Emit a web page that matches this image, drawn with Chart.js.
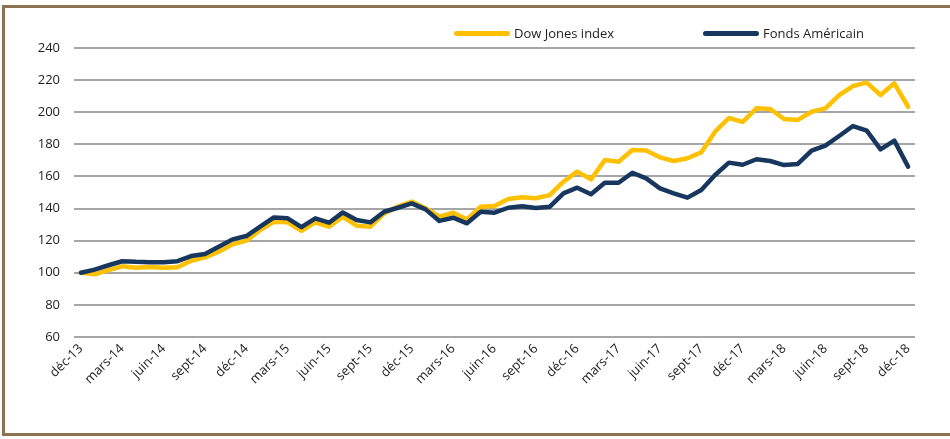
<!DOCTYPE html>
<html>
<head>
<meta charset="utf-8">
<script src="https://cdn.jsdelivr.net/npm/chart.js@4.4.1/dist/chart.umd.min.js"></script>
<style>
  html, body { margin: 0; padding: 0; background: #fff; }
  body { width: 950px; height: 439px; position: relative; overflow: hidden; font-family: "Open Sans", sans-serif; }
  #frame { position: absolute; left: 2px; top: 5px; width: 980px; height: 431px; border: 3px solid #8c7453; border-right: none; box-sizing: border-box; }
  #wrap { position: absolute; left: 0; top: 0; width: 950px; height: 439px; }
  #legend { position: absolute; top: 24px; left: 454px; font-size: 13px; color: #222; white-space: nowrap; }
  #legend .item { position: absolute; top: 0; display: flex; align-items: center; }
  #legend .swatch { width: 56px; height: 5px; border-radius: 3px; margin-right: 4px; }
</style>
</head>
<body>
<div id="frame"></div>
<div id="wrap"><canvas id="chart" width="950" height="439"></canvas></div>
<div id="legend"></div>
<script>
const months = [
  "déc-13","janv-14","févr-14","mars-14","avr-14","mai-14","juin-14","juil-14","août-14","sept-14","oct-14","nov-14",
  "déc-14","janv-15","févr-15","mars-15","avr-15","mai-15","juin-15","juil-15","août-15","sept-15","oct-15","nov-15",
  "déc-15","janv-16","févr-16","mars-16","avr-16","mai-16","juin-16","juil-16","août-16","sept-16","oct-16","nov-16",
  "déc-16","janv-17","févr-17","mars-17","avr-17","mai-17","juin-17","juil-17","août-17","sept-17","oct-17","nov-17",
  "déc-17","janv-18","févr-18","mars-18","avr-18","mai-18","juin-18","juil-18","août-18","sept-18","oct-18","nov-18",
  "déc-18"
];

const dowJones = [
  100, 99, 101.6, 104, 103.2, 103.6, 103.2, 103.4, 107.5, 109.6, 113.1, 117.7,
  120, 126.6, 131.8, 131.4, 126.1, 131.4, 128.7, 134.9, 129.3, 128.7, 137, 141.2,
  144.3, 140.2, 134.9, 137.4, 133.3, 141.2, 141.6, 146, 147, 146.4, 148.4, 156.7,
  163, 158.2, 170.2, 169.2, 176.5, 176.1, 171.9, 169.6, 171.3, 175, 187.9, 196.4,
  194, 202.4, 202, 195.8, 195.2, 200.3, 202.4, 210.7, 216.3, 218.4, 210.7, 218,
  203.4
];

const fondsAmericain = [
  100, 102, 104.7, 107.2, 106.8, 106.6, 106.6, 107.2, 110.4, 111.7, 116.2, 120.8,
  122.9, 128.7, 134.5, 133.9, 128.4, 133.9, 131.2, 137.6, 132.9, 131.4, 138, 140.5,
  143.2, 139.5, 132.3, 134.3, 130.8, 138, 137.4, 140.5, 141.4, 140.3, 141.1, 149.5,
  153, 148.9, 156.1, 156.1, 162.3, 158.8, 152.6, 149.5, 146.8, 151.6, 160.9, 168.6,
  167.3, 170.7, 169.6, 167.1, 167.8, 176.1, 179.2, 185.2, 191.4, 188.5, 176.9, 182.3,
  166.1
];

const seriesNames = ["Dow Jones index", "Fonds Américain"];
const seriesColors = ["#ffc000", "#17375e"];

const ctx = document.getElementById("chart").getContext("2d");
const chart = new Chart(ctx, {
  type: "line",
  data: {
    labels: months,
    datasets: [
      { label: seriesNames[0], data: dowJones, borderColor: seriesColors[0], borderWidth: 4.5, order: 2 },
      { label: seriesNames[1], data: fondsAmericain, borderColor: seriesColors[1], borderWidth: 4.5, order: 1 }
    ]
  },
  options: {
    responsive: false,
    animation: false,
    devicePixelRatio: 1,
    elements: {
      point: { radius: 0 },
      line: { tension: 0, borderCapStyle: "round", borderJoinStyle: "round", fill: false }
    },
    layout: { padding: { left: 0, right: 35, top: 48, bottom: 0 } },
    plugins: { legend: { display: false }, tooltip: { enabled: false } },
    scales: {
      x: {
        offset: true,
        grid: { display: false, drawTicks: false },
        border: { display: false },
        ticks: {
          autoSkip: false,
          minRotation: 45,
          maxRotation: 45,
          padding: 4,
          color: "#222",
          font: { family: "Open Sans", size: 13 },
          callback: function (val, i) { return i % 3 === 0 ? months[i] : ""; }
        },
        afterFit: function (scale) { scale.height = 102; }
      },
      y: {
        min: 60,
        max: 240,
        grid: { color: "#a6a6a6", lineWidth: 2, drawTicks: false },
        border: { display: false },
        ticks: {
          stepSize: 20,
          padding: 14,
          color: "#222",
          font: { family: "Open Sans", size: 13 }
        },
        afterFit: function (scale) { scale.width = 74; }
      }
    }
  }
});

// legend as html text
const legend = document.getElementById("legend");
const legendLeft = [0, 249];
chart.data.datasets.forEach(function (ds, i) {
  const item = document.createElement("div");
  item.className = "item";
  item.style.left = legendLeft[i] + "px";
  item.innerHTML = '<span class="swatch" style="background:' + ds.borderColor + '"></span><span>' + ds.label + '</span>';
  legend.appendChild(item);
});
</script>
</body>
</html>
